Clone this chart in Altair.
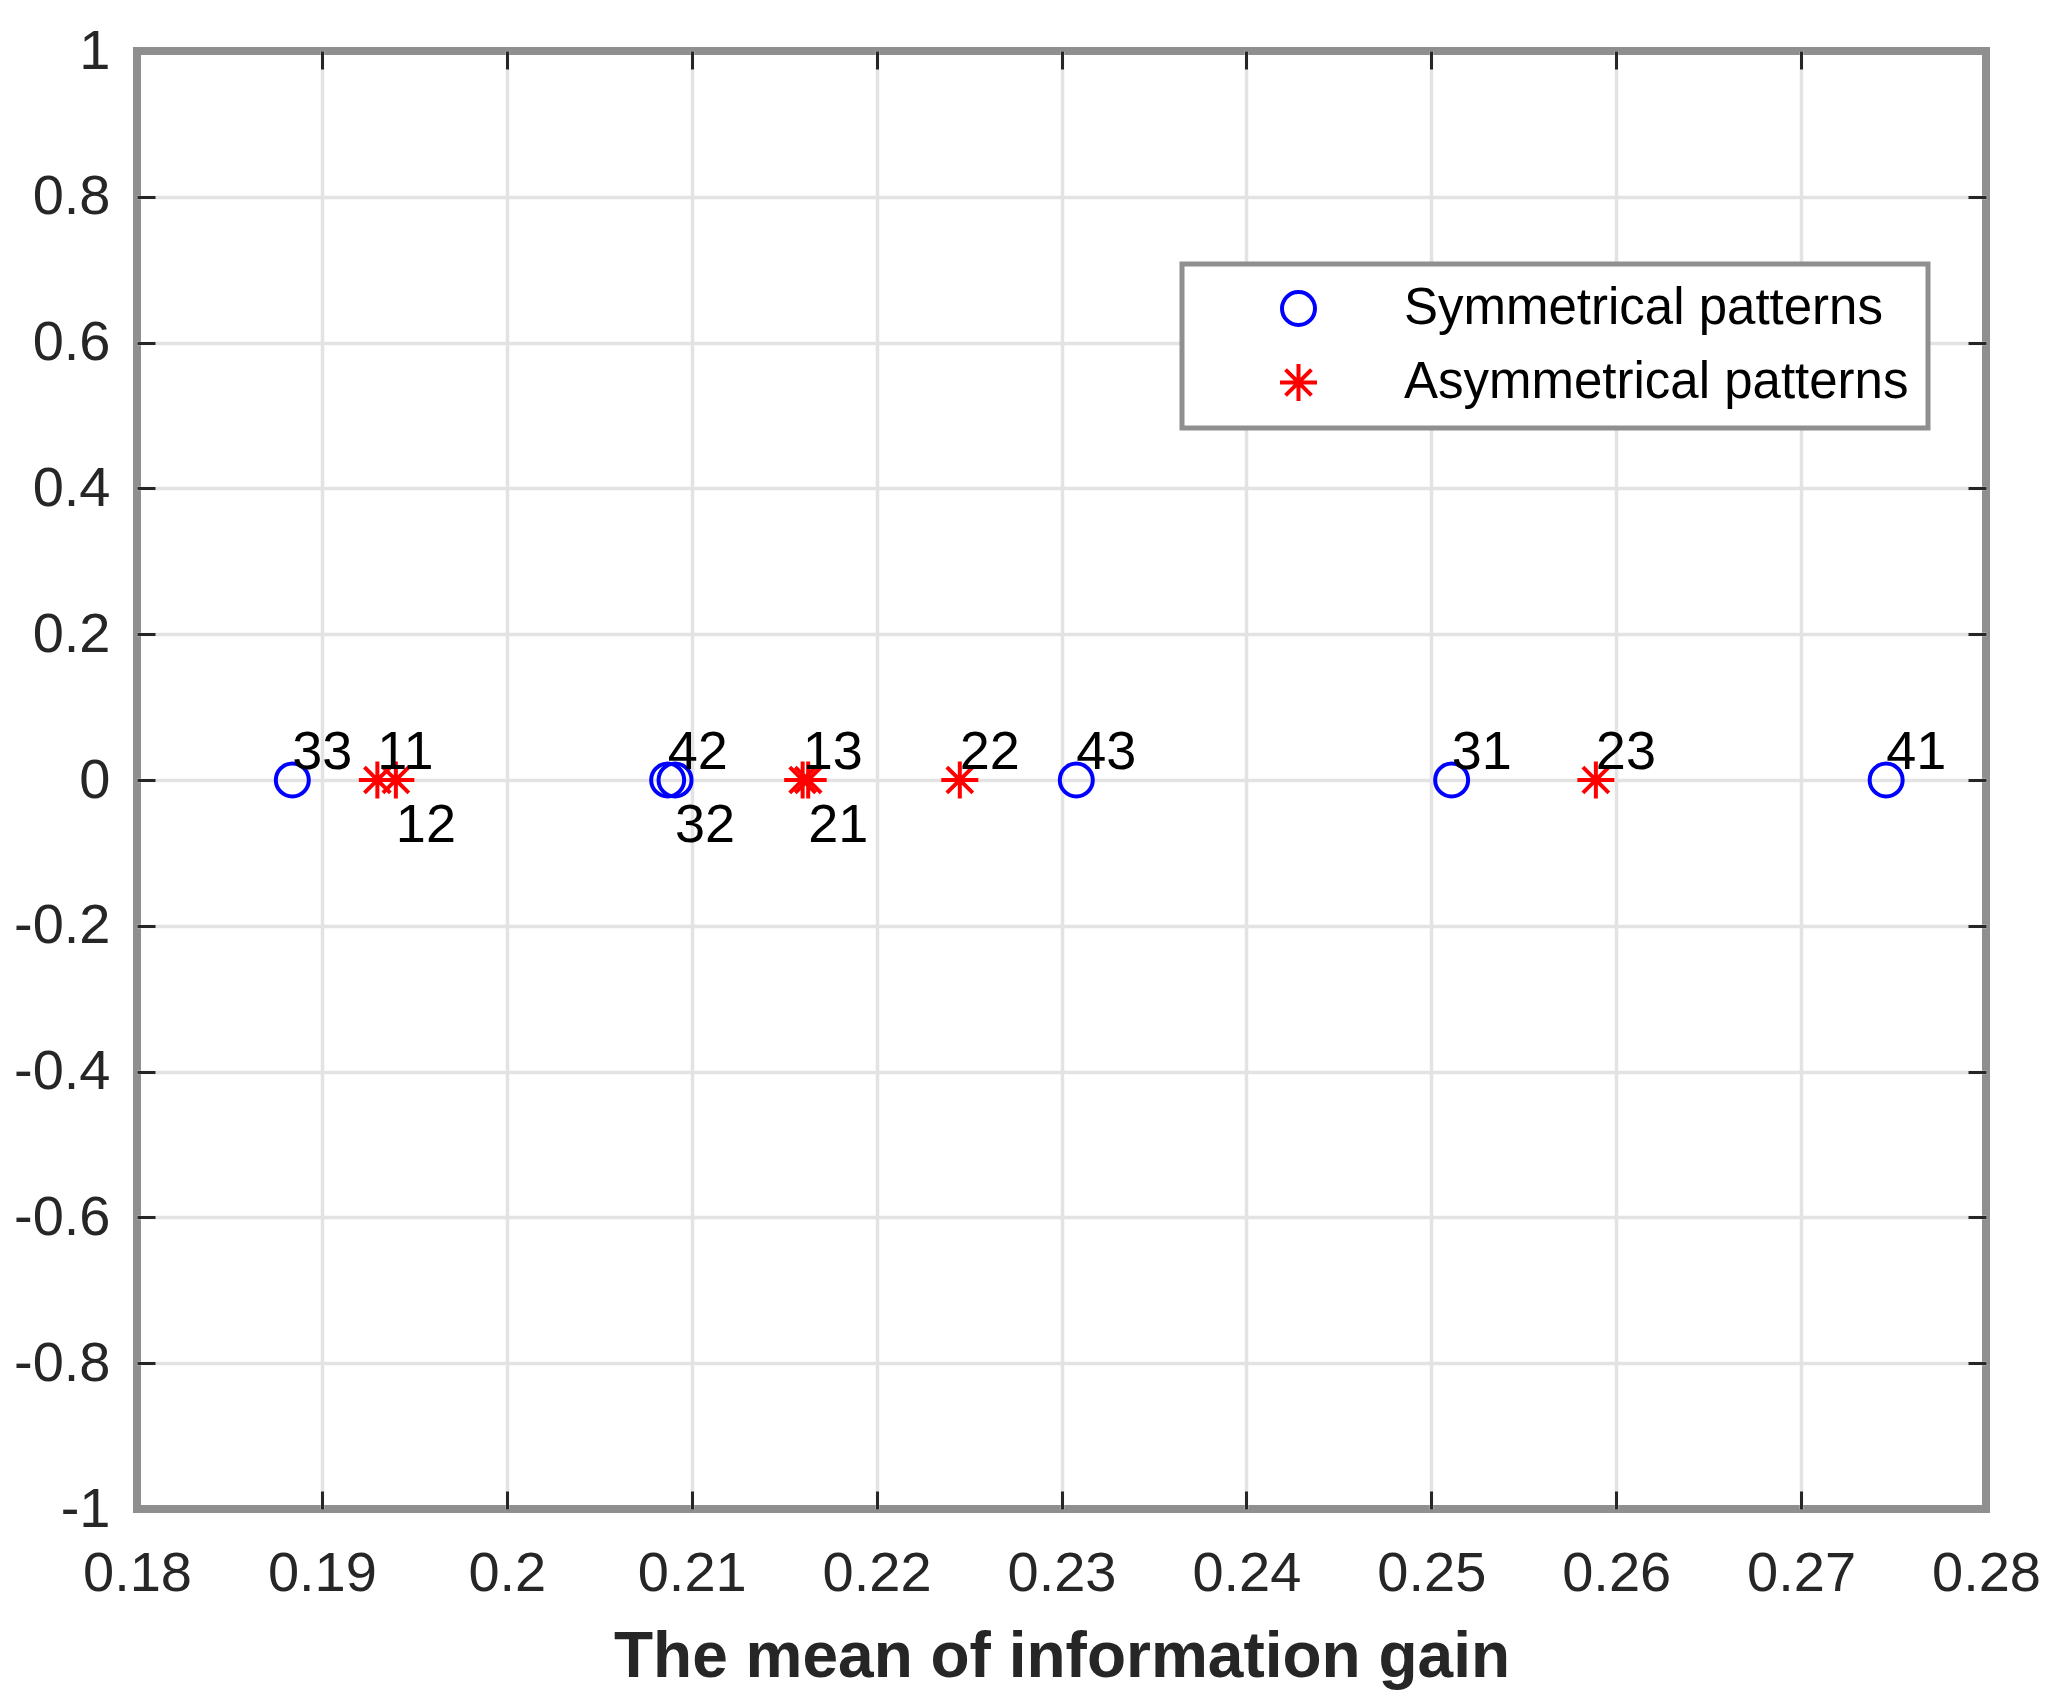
import altair as alt
import pandas as pd

FONT = "Liberation Sans"

# values (y is always 0 in the original)
sym_names = ["33", "42", "32", "43", "31", "41"]
sym_gain = [0.1884, 0.2087, 0.2091, 0.2308, 0.2511, 0.2746]
asym_names = ["11", "12", "13", "21", "22", "23"]
asym_gain = [0.1930, 0.1940, 0.2160, 0.2163, 0.2245, 0.2589]
below_names = ["12", "32", "21"]   # these labels sit under the marker

groups = ["Symmetrical patterns", "Asymmetrical patterns"]
x_ticks = [0.18, 0.19, 0.2, 0.21, 0.22, 0.23, 0.24, 0.25, 0.26, 0.27, 0.28]
y_ticks = [-1, -0.8, -0.6, -0.4, -0.2, 0, 0.2, 0.4, 0.6, 0.8, 1]

# matlab style '*' marker
STAR = "M-1,0L1,0M0,-1L0,1M-0.7,-0.7L0.7,0.7M-0.7,0.7L0.7,-0.7"

df = pd.DataFrame({
    "gain": sym_gain + asym_gain,
    "value": [0] * (len(sym_gain) + len(asym_gain)),
    "name": sym_names + asym_names,
    "group": [groups[0]] * len(sym_gain) + [groups[1]] * len(asym_gain),
})
df["below"] = df["name"].isin(below_names)

xs = alt.Scale(domain=[0.18, 0.28], nice=False, zero=False)
ys = alt.Scale(domain=[-1, 1], nice=False)

x_edge = "datum.value < 0.1805 || datum.value > 0.2795"
y_edge = "abs(datum.value) > 0.995"
GRID = "#e3e3e3"
TICK = "#262626"


def cond(test, a, b):
    return {"condition": {"test": test, "value": a}, "value": b}


x_main = alt.Axis(
    orient="bottom", offset=-18, values=x_ticks, tickSize=18, tickWidth=3,
    tickColor=cond(x_edge, "transparent", TICK), domain=False,
    grid=True, gridColor=cond(x_edge, "transparent", GRID), gridWidth=3.5,
    labelExpr="'' + datum.value", labelFont=FONT, labelFontSize=56,
    labelColor=TICK, labelPadding=37, labelFlush=False, labelOverlap=False,
    title="The mean of information gain", titleFont=FONT, titleFontSize=64,
    titleFontWeight="bold", titleColor=TICK, titlePadding=24,
)
y_main = alt.Axis(
    orient="left", offset=-18, values=y_ticks, tickSize=18, tickWidth=3,
    tickColor=cond(y_edge, "transparent", TICK), domain=False,
    grid=True, gridColor=cond(y_edge, "transparent", GRID), gridWidth=3.5,
    labelExpr="'' + datum.value", labelFont=FONT, labelFontSize=56,
    labelColor=TICK, labelPadding=27, labelOverlap=False, title=None,
)
x_top = alt.Axis(
    orient="top", offset=-18, values=x_ticks, tickSize=18, tickWidth=3,
    tickColor=cond(x_edge, "transparent", TICK), domain=False, grid=False,
    labels=False, title=None,
)
y_right = alt.Axis(
    orient="right", offset=-18, values=y_ticks, tickSize=18, tickWidth=3,
    tickColor=cond(y_edge, "transparent", TICK), domain=False, grid=False,
    labels=False, title=None,
)

legend = alt.Legend(
    title=None, orient="none", legendX=1045, legendY=213, direction="vertical",
    fillColor="white", strokeColor="#8f8f8f", padding=19,
    labelFont=FONT, labelFontSize=51, labelColor="black", labelLimit=1000,
    symbolSize=1089, symbolStrokeWidth=4, symbolOffset=72, labelOffset=80,
    rowPadding=22,
)

points = alt.Chart(df).mark_point(filled=False, strokeWidth=4, opacity=1).encode(
    x=alt.X("gain:Q", scale=xs, axis=x_main),
    y=alt.Y("value:Q", scale=ys, axis=y_main),
    color=alt.Color("group:N", scale=alt.Scale(domain=groups, range=["#0000ff", "#ff0000"]), legend=legend),
    shape=alt.Shape("group:N", scale=alt.Scale(domain=groups, range=["circle", STAR]), legend=legend),
    size=alt.Size("group:N", scale=alt.Scale(domain=groups, range=[1089, 1369]), legend=None),
)

above = alt.Chart(df).transform_filter("!datum.below").mark_text(
    align="left", baseline="alphabetic", dy=-11, font=FONT, fontSize=54, color="black"
).encode(
    x=alt.X("gain:Q", scale=xs, axis=x_top),
    y=alt.Y("value:Q", scale=ys, axis=y_right),
    text="name:N",
)

below = alt.Chart(df).transform_filter("datum.below").mark_text(
    align="left", baseline="alphabetic", dy=62, font=FONT, fontSize=54, color="black"
).encode(
    x=alt.X("gain:Q", scale=xs, axis=None),
    y=alt.Y("value:Q", scale=ys, axis=None),
    text="name:N",
)

chart = alt.layer(points, above, below).resolve_axis(x="independent", y="independent")
chart = chart.properties(
    width=1849, height=1458,
    autosize=alt.AutoSizeParams(type="none"),
    padding={"left": 129, "top": 43, "right": 55, "bottom": 190},
)
chart = chart.configure(background="white").configure_view(stroke="#8f8f8f", strokeWidth=8)
chart = chart.configure_legend(strokeWidth=5)

chart.save("out.html", embed_options={"renderer": "svg", "actions": False})
